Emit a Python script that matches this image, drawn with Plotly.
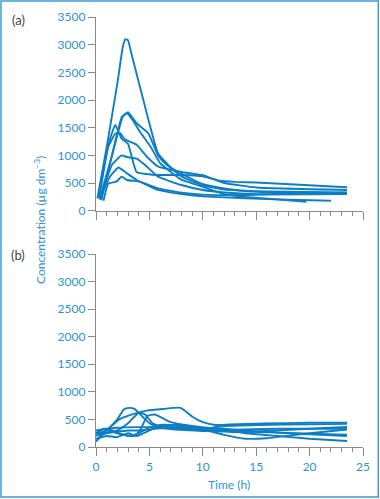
import plotly.graph_objects as go
from plotly.subplots import make_subplots

# ---- Data: panel (a) ----
a1_t = [0.13, 1.0, 2.0, 2.5, 2.75, 3.0, 3.3, 4.5, 5.8, 7.0, 8.2, 10.0, 12.0, 15.0, 20.0, 23.5]
a1_c = [220, 1150, 2300, 2950, 3100, 3080, 2850, 1950, 1040, 780, 650, 480, 400, 340, 320, 310]
a2_t = [0.5, 1.5, 2.5, 3.0, 3.8, 4.9, 5.8, 6.5, 8.0, 10.0, 12.0, 16.0, 23.5]
a2_c = [190, 1000, 1700, 1780, 1580, 1400, 1000, 850, 620, 460, 380, 350, 330]
a3_t = [0.4, 1.5, 2.4, 2.9, 3.4, 4.1, 5.1, 6.0, 8.0, 10.0, 12.0, 14.0, 19.7]
a3_c = [250, 1000, 1690, 1760, 1650, 1430, 1160, 860, 560, 430, 300, 250, 163]
a4_t = [0.2, 1.15, 1.8, 2.4, 3.0, 3.8, 5.7, 8.0, 10.0, 11.6, 13.0, 15.0, 23.5]
a4_c = [250, 1190, 1550, 1300, 1210, 700, 645, 645, 620, 540, 520, 510, 423]
a5_t = [0.3, 1.15, 1.8, 2.25, 2.7, 3.8, 4.75, 5.8, 8.0, 10.0, 12.0, 15.0, 23.5]
a5_c = [230, 1150, 1390, 1400, 1290, 1190, 980, 800, 700, 640, 500, 420, 374]
a6_t = [0.35, 1.5, 2.4, 2.9, 3.8, 4.75, 5.8, 8.0, 10.0, 12.0, 15.0, 23.5]
a6_c = [200, 830, 1000, 970, 940, 800, 615, 464, 374, 330, 300, 325]
a7_t = [0.35, 1.3, 2.1, 2.9, 3.8, 4.75, 5.8, 8.0, 10.0, 12.0, 16.0, 22.0]
a7_c = [210, 615, 780, 675, 555, 465, 375, 300, 260, 240, 210, 181]
a8_t = [0.7, 1.15, 1.9, 2.4, 2.9, 4.1, 5.8, 8.0, 10.0, 12.0, 16.0, 23.5]
a8_c = [180, 490, 525, 615, 555, 525, 404, 325, 290, 280, 290, 302]

# ---- Data: panel (b) ----
b1_t = [0.2, 1.0, 2.0, 2.6, 3.1, 3.6, 4.4, 5.1, 6.0, 8.0, 10.0, 12.0, 14.0, 17.0, 20.0, 23.5]
b1_c = [250, 300, 500, 680, 710, 690, 540, 420, 370, 350, 320, 300, 280, 260, 240, 225]
b2_t = [0.0, 1.0, 2.25, 3.8, 4.75, 6.3, 7.9, 9.1, 10.0, 11.2, 12.5, 15.8, 20.0, 23.5]
b2_c = [100, 300, 510, 615, 660, 690, 710, 540, 450, 400, 410, 425, 440, 442]
b3_t = [0.2, 1.0, 2.0, 3.0, 4.0, 4.6, 5.3, 6.5, 8.0, 10.0, 12.0, 14.0, 17.0, 20.0, 23.5]
b3_c = [200, 250, 300, 430, 620, 590, 430, 340, 310, 290, 280, 270, 300, 330, 363]
b4_t = [0.0, 0.8, 1.5, 2.5, 3.6, 4.2, 4.8, 5.5, 7.0, 9.0, 11.0, 12.0, 14.0, 17.0, 20.0, 23.5]
b4_c = [250, 330, 300, 230, 200, 330, 560, 590, 450, 380, 340, 330, 300, 260, 230, 200]
b5_t = [0.0, 1.0, 2.0, 4.0, 6.0, 8.0, 10.0, 12.0, 15.0, 20.0, 23.5]
b5_c = [300, 330, 350, 360, 360, 360, 330, 380, 400, 410, 420]
b6_t = [0.0, 1.0, 2.0, 3.0, 3.8, 5.0, 6.0, 8.0, 10.0, 12.0, 14.0, 17.0, 20.0, 23.5]
b6_c = [150, 200, 180, 250, 200, 300, 380, 400, 340, 300, 250, 200, 150, 109]
b7_t = [0.0, 1.0, 2.0, 3.0, 4.0, 5.0, 6.0, 8.0, 10.0, 12.0, 14.0, 16.0, 20.0, 23.5]
b7_c = [200, 300, 250, 200, 250, 350, 400, 380, 320, 220, 150, 160, 250, 316]
b8_t = [0.0, 1.0, 2.0, 3.0, 4.0, 5.0, 6.0, 8.0, 10.0, 12.0, 14.0, 17.0, 20.0, 23.5]
b8_c = [250, 250, 280, 300, 300, 320, 340, 330, 300, 310, 320, 330, 330, 330]

panel_a = [(a1_t, a1_c), (a2_t, a2_c), (a3_t, a3_c), (a4_t, a4_c),
           (a5_t, a5_c), (a6_t, a6_c), (a7_t, a7_c), (a8_t, a8_c)]
panel_b = [(b1_t, b1_c), (b2_t, b2_c), (b3_t, b3_c), (b4_t, b4_c),
           (b5_t, b5_c), (b6_t, b6_c), (b7_t, b7_c), (b8_t, b8_c)]

y_ticks = [0, 500, 1000, 1500, 2000, 2500, 3000, 3500]
x_ticks = [0, 5, 10, 15, 20, 25]

LINE = "#0d7ec4"
TXT = "#2a93d2"
AXC = "#8a8a8a"
FONT = "Lato"

fig = make_subplots(rows=2, cols=1)
for t, c in panel_a:
    fig.add_trace(go.Scatter(x=t, y=c, mode="lines", line=dict(color=LINE, width=1.9, shape="spline", smoothing=0.35),
                             showlegend=False, hoverinfo="skip"), row=1, col=1)
for t, c in panel_b:
    fig.add_trace(go.Scatter(x=t, y=c, mode="lines", line=dict(color=LINE, width=1.9, shape="spline", smoothing=0.5),
                             showlegend=False, hoverinfo="skip"), row=2, col=1)

L, R, T, B = 96, 17, 17, 52
W, H = 380, 499
pw, ph = W - L - R, H - T - B

def px2x(px):
    return (px - L) / pw

def py2y(py):
    return (H - B - py) / ph

xcommon = dict(range=[0, 25], tickvals=x_ticks, ticks="outside", ticklen=8, tickwidth=1, tickcolor=AXC,
               showline=True, linecolor=AXC, linewidth=1.2, showgrid=False, zeroline=False,
               minor=dict(dtick=1, ticks="outside", ticklen=4, tickcolor=AXC, tickwidth=1, showgrid=False),
               tickfont=dict(family=FONT, size=12, color=TXT))
ycommon = dict(range=[0, 3500], tickvals=y_ticks, ticks="outside", ticklen=7, tickwidth=1, tickcolor=AXC,
               showline=True, linecolor=AXC, linewidth=1.2, showgrid=False, zeroline=False,
               tickfont=dict(family=FONT, size=12, color=TXT))

fig.update_layout(
    xaxis=dict(**xcommon, showticklabels=False, domain=[0, 1], anchor="y"),
    yaxis=dict(**ycommon, domain=[py2y(210.7), 1.0], anchor="x"),
    xaxis2=dict(**xcommon, showticklabels=True, domain=[0, 1], anchor="y2"),
    yaxis2=dict(**ycommon, domain=[0.0, py2y(254)], anchor="x2"),
    width=W, height=H, margin=dict(l=L, r=R, t=T, b=B, autoexpand=False),
    paper_bgcolor="white", plot_bgcolor="white",
    font=dict(family=FONT, size=12, color=TXT),
    annotations=[
        dict(text="(a)", x=px2x(18), y=py2y(20), xref="paper", yref="paper", showarrow=False,
             xanchor="center", yanchor="middle", font=dict(family=FONT, size=13, color="#444444")),
        dict(text="(b)", x=px2x(18), y=py2y(255), xref="paper", yref="paper", showarrow=False,
             xanchor="center", yanchor="middle", font=dict(family=FONT, size=13, color="#444444")),
        dict(text="Concentration (µg dm<sup>−3</sup>)", x=px2x(40), y=py2y(220), xref="paper", yref="paper",
             xanchor="center", yanchor="middle",
             showarrow=False, textangle=-90, font=dict(family=FONT, size=12, color=TXT)),
        dict(text="Time (h)", x=px2x(229), y=py2y(484), xref="paper", yref="paper", showarrow=False,
             xanchor="center", yanchor="middle", font=dict(family=FONT, size=12, color=TXT)),
    ],
    shapes=[dict(type="rect", xref="paper", yref="paper", x0=px2x(1), x1=px2x(378.3), y0=py2y(497), y1=py2y(1),
                 line=dict(color="#3d9ad1", width=1.5), fillcolor="rgba(0,0,0,0)")],
)

fig.write_html("out.html", config={"displayModeBar": False, "staticPlot": True},
               post_script="document.body.style.margin='0';document.body.style.overflow='hidden';")
